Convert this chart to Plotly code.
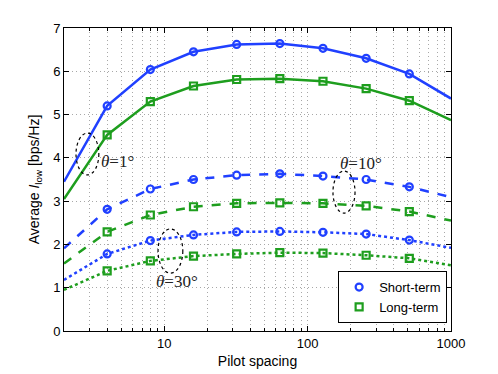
import plotly.graph_objects as go

# pilot spacing (x) and average I_low values
pilot_spacing = [2, 4, 8, 16, 32, 64, 128, 256, 512, 1000]

short_1deg = [3.45, 5.20, 6.04, 6.45, 6.62, 6.64, 6.53, 6.30, 5.94, 5.37]
long_1deg = [3.05, 4.53, 5.30, 5.66, 5.81, 5.83, 5.77, 5.60, 5.32, 4.87]

short_10deg = [1.91, 2.81, 3.28, 3.50, 3.60, 3.63, 3.58, 3.50, 3.33, 3.09]
long_10deg = [1.56, 2.29, 2.68, 2.87, 2.95, 2.96, 2.95, 2.89, 2.76, 2.55]

short_30deg = [1.18, 1.78, 2.09, 2.22, 2.29, 2.30, 2.28, 2.24, 2.10, 1.92]
long_30deg = [0.95, 1.39, 1.62, 1.73, 1.78, 1.81, 1.80, 1.75, 1.68, 1.52]

x_ticks = [10, 100, 1000]

BLUE = "#2040ff"
GREEN = "#1e9e1e"
GRID = "#a8a8a8"

# markers shown only at the inner points (4 ... 512)
marker_opacity = [0] + [1] * 8 + [0]

fig = go.Figure()

series = [
    (short_1deg, BLUE, "circle-open", "solid"),
    (long_1deg, GREEN, "square-open", "solid"),
    (short_10deg, BLUE, "circle-open", "dash"),
    (long_10deg, GREEN, "square-open", "dash"),
    (short_30deg, BLUE, "circle-open", "dot"),
    (long_30deg, GREEN, "square-open", "dot"),
]

for values, color, symbol, dash in series:
    fig.add_trace(go.Scatter(
        x=pilot_spacing, y=values, mode="lines+markers",
        line=dict(color=color, width=2.5, dash=dash),
        marker=dict(symbol=symbol, size=7, color=color, opacity=marker_opacity,
                    line=dict(width=2.2, color=color)),
        showlegend=False, hoverinfo="skip",
    ))

# legend entries (markers only)
fig.add_trace(go.Scatter(x=[None], y=[None], mode="markers", name="Short-term",
                         marker=dict(symbol="circle-open", size=7, color=BLUE,
                                     line=dict(width=2.2, color=BLUE))))
fig.add_trace(go.Scatter(x=[None], y=[None], mode="markers", name="Long-term",
                         marker=dict(symbol="square-open", size=7, color=GREEN,
                                     line=dict(width=2.2, color=GREEN))))

# minor grid lines at every decade subdivision
minor_vals = []
for d in [1, 10, 100]:
    for m in range(2, 10):
        v = m * d
        if v >= 2:
            minor_vals.append(v)

fig.update_xaxes(
    type="log", range=[0.30103, 3], automargin=False,
    tickmode="array", tickvals=x_ticks, ticktext=[str(v) for v in x_ticks],
    ticks="inside", ticklen=5, tickcolor="black",
    minor=dict(tickmode="array", tickvals=minor_vals, ticks="inside", ticklen=3,
               tickcolor="black", showgrid=True, gridcolor=GRID, gridwidth=1,
               griddash="1px,3px"),
    showline=True, linecolor="black", linewidth=1, mirror="ticks",
    showgrid=True, gridcolor=GRID, gridwidth=1, griddash="1px,3px",
    zeroline=False,
    title=dict(text="Pilot spacing", font=dict(size=14, color="black"), standoff=6),
    tickfont=dict(size=13, color="black"),
)
fig.update_yaxes(
    range=[0, 7], dtick=1, automargin=False,
    ticks="inside", ticklen=5, tickcolor="black",
    showline=True, linecolor="black", linewidth=1, mirror="ticks",
    showgrid=True, gridcolor=GRID, gridwidth=1, griddash="1px,3px",
    zeroline=False,
    title=dict(text="Average <i>I</i><sub>low</sub> [bps/Hz]", font=dict(size=14, color="black"), standoff=10),
    tickfont=dict(size=13, color="black"),
)

# dotted ellipses marking each angle group
ellipses = [
    (0.031, 0.515, 0.090, 0.653),
    (0.695, 0.389, 0.752, 0.528),
    (0.243, 0.191, 0.307, 0.337),
]
for x0, y0, x1, y1 in ellipses:
    fig.add_shape(type="circle", xref="paper", yref="paper",
                  x0=x0, y0=y0, x1=x1, y1=y1,
                  line=dict(color="black", width=1.2, dash="dot"))

labels = [
    ("<i>θ</i>=1°", 0.090, 0.561),
    ("<i>θ</i>=10°", 0.708, 0.554),
    ("<i>θ</i>=30°", 0.232, 0.165),
]
for text, x, y in labels:
    fig.add_annotation(text=text, xref="paper", yref="paper", x=x, y=y,
                       xanchor="left", yanchor="middle", showarrow=False,
                       font=dict(family="Liberation Serif", size=17, color="#222"))

# page body has an 8px margin, so the figure is 8px smaller than the window
fig.update_layout(
    width=490, height=366,
    margin=dict(l=56, r=47, t=20, b=43, autoexpand=False),
    paper_bgcolor="white", plot_bgcolor="white",
    font=dict(family="Liberation Sans, Arial", color="black"),
    legend=dict(x=0.99, y=0.026, xanchor="right", yanchor="bottom",
                bgcolor="white", bordercolor="black", borderwidth=1,
                font=dict(size=13, color="black"),
                tracegroupgap=0),
)

fig.write_html("out.html")
